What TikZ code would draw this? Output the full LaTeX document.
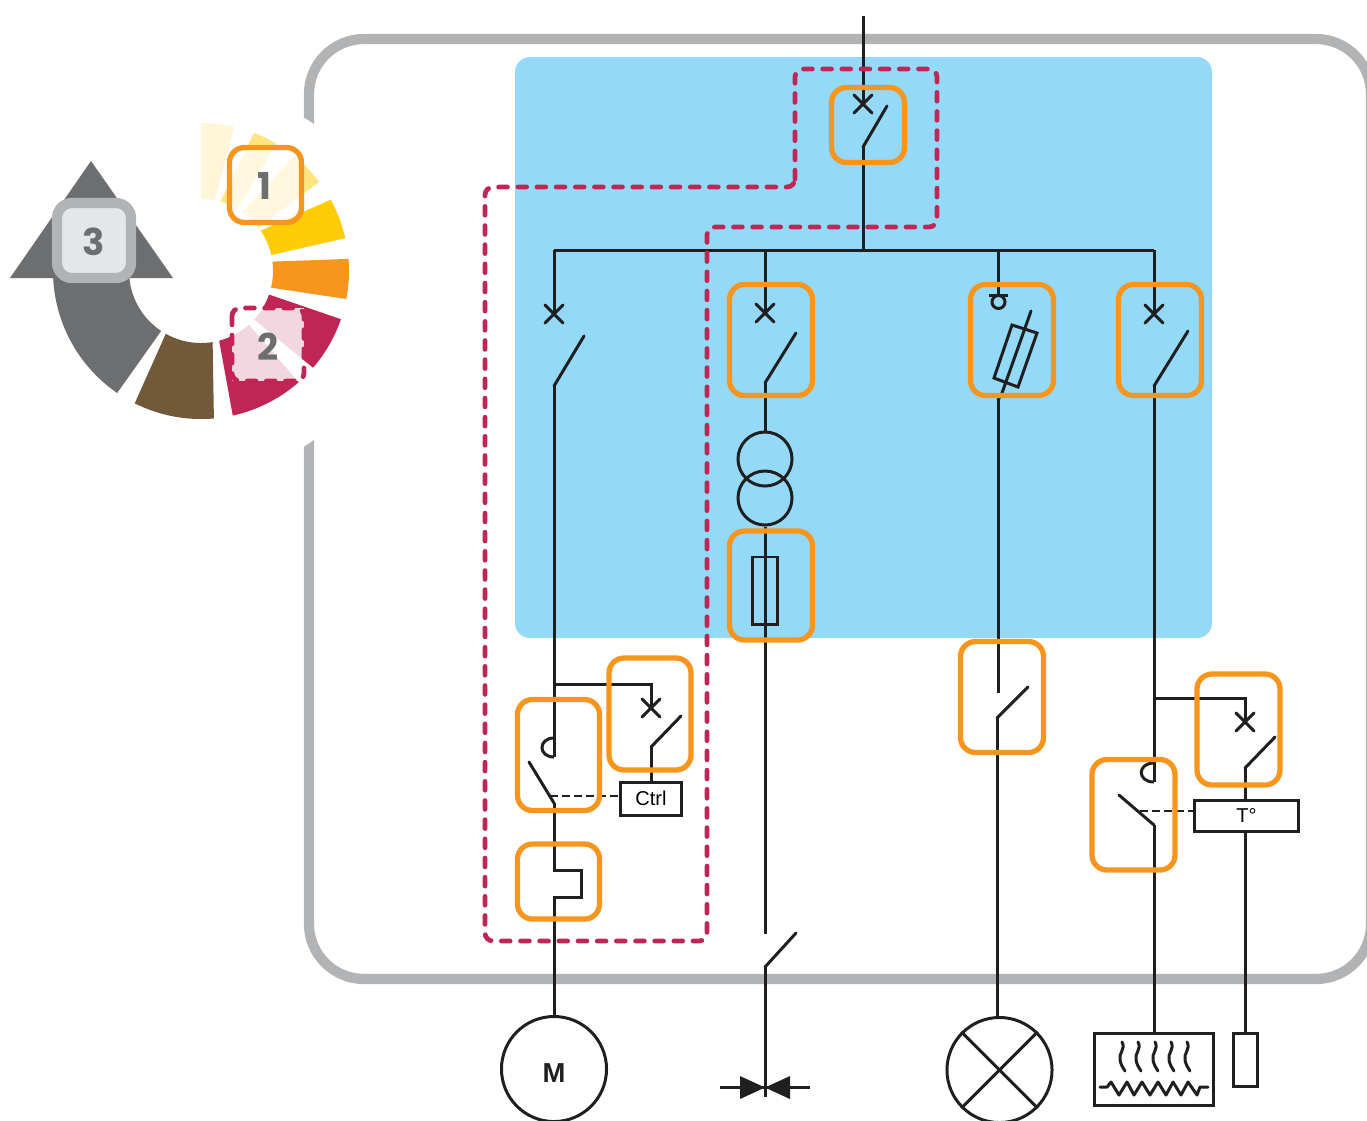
\documentclass[tikz,border=0pt]{standalone}
\usepackage{fontspec}
\setmainfont{Liberation Sans}
\newfontfamily\badgefont{Poppins}
\usepackage{tikz}
\usetikzlibrary{positioning}
\definecolor{framegray}{HTML}{B2B3B5}
\definecolor{darkgray}{HTML}{6D6E70}
\definecolor{lightgray}{HTML}{E5E6E8}
\definecolor{panelblue}{HTML}{95D9F9}
\definecolor{markorange}{HTML}{F8951D}
\definecolor{crimson}{HTML}{C02556}
\definecolor{earth}{HTML}{71593A}
\definecolor{palecream}{HTML}{FFF6DA}
\definecolor{paleyellow}{HTML}{FFE57F}
\definecolor{signyellow}{HTML}{FFCC07}
\tikzset{
  wire/.style={line width=0.85pt,draw=black!88,line join=miter},
  markbox/.style={line width=1.5pt,draw=markorange,rounded corners=0.15cm},
  zonedash/.style={line width=1.35pt,draw=crimson,line cap=round,dash pattern=on 2.5pt off 2.95pt},
  linkdash/.style={line width=0.8pt,draw=black!88,dash pattern=on 2.3pt off 1.1pt},
  devbox/.style={wire,rectangle,inner sep=0pt,font=\fontsize{5.7}{6}\selectfont},
  devround/.style={wire,circle,inner sep=0pt,minimum size=1.05cm},
  badge/.style={inner sep=0pt,text=darkgray,font=\badgefont\bfseries\fontsize{10.5}{11}\selectfont}
}
\begin{document}
\begin{tikzpicture}[x=0.01cm,y=-0.01cm]
  \useasboundingbox (0,0) rectangle (1367,1120);
  \clip (0,0) rectangle (1367,1120);
  \newcommand{\wheelseg}[5]{\fill[#1] (#2:148) arc[start angle=#2,end angle=#3,radius=148] -- (#4:72) arc[start angle=#4,end angle=#5,radius=72] -- cycle;}
  \newcommand{\crossmark}[1]{\draw[wire,line cap=round] (#1) ++(-9,-9) -- ++(18,18) (#1) ++(-9,9) -- ++(18,-18);}

  \fill[panelblue,rounded corners=0.15cm] (515,57) rectangle (1212,638);
  \draw[framegray,line width=2.9pt,rounded corners=0.55cm] (309,39) rectangle (1371,979);
  \fill[white] (201,282) circle[radius=194];

  \begin{scope}[shift={(201,271)},y=0.01cm]
    \wheelseg{palecream}{90}{77}{79}{90}
    \wheelseg{paleyellow}{69}{59.5}{59.5}{74.4}
    \wheelseg{paleyellow}{51}{37}{37}{55}
    \wheelseg{signyellow}{28.8}{12.8}{12.8}{34}
    \wheelseg{markorange}{4.7}{-10.9}{-13.4}{7.5}
    \wheelseg{crimson}{-19}{-40.8}{-42.4}{-19.1}
    \wheelseg{crimson}{-48.7}{-77.6}{-75.4}{-48.2}
    \wheelseg{earth}{-85}{-116.6}{-119.3}{-80.7}
    \fill[darkgray] (-124.5:148) arc[start angle=-124.5,end angle=-177.2,radius=148]
      -- (-191,-7) -- (-110,110) -- (-28,-7) -- (-71,-7)
      -- (-174:72) arc[start angle=-174,end angle=-123.6,radius=72] -- cycle;
  \end{scope}

  \coordinate (pFeed) at (863,16);
  \coordinate (pMainX) at (863,104);
  \coordinate (pMainOut) at (863,147);
  \coordinate (pMainTip) at (887,106);
  \coordinate (pBusMid) at (863,250);
  \coordinate (pBusL) at (554,250);
  \coordinate (pBusT) at (765,250);
  \coordinate (pBusF) at (998,250);
  \coordinate (pBusR) at (1154,250);
  \draw[wire] (pFeed) -- (pMainX);
  \draw[wire] (pMainOut) -- (pBusMid);
  \draw[wire,line cap=round] (pMainOut) -- (pMainTip);
  \crossmark{pMainX}
  \draw[wire] (pBusL) -- (pBusR);

  % motor feeder
  \coordinate (pLeftX) at (554,314);
  \coordinate (pLeftOut) at (554,386);
  \coordinate (pLeftTip) at (584,336);
  \coordinate (pCoilTop) at (554,738);
  \coordinate (pCoilEnd) at (554,757);
  \coordinate (pContTip) at (529,762);
  \coordinate (pContOut) at (554,803);
  \coordinate (pJogA) at (554,870);
  \coordinate (pJogB) at (581,870);
  \coordinate (pJogC) at (581,897);
  \coordinate (pJogD) at (554,897);
  \coordinate (pTapL) at (554,684);
  \coordinate (pTapCorner) at (651,684);
  \coordinate (pCtrlX) at (651,708);
  \coordinate (pCtrlOut) at (651,747);
  \coordinate (pCtrlTip) at (681,716);
  \coordinate (pCtrlLink) at (550,796);
  \node[devbox,draw,minimum width=0.6cm,minimum height=0.33cm] (ctrlBox) at (651,798.5) {Ctrl};
  \node[devround,draw] (motor) at (554,1069) {};
  \node[inner sep=0pt,text=black!88,font=\bfseries\fontsize{7.8}{8}\selectfont] (motorText) at (554,1073) {M};
  \draw[wire] (pBusL) -- (pLeftX);
  \crossmark{pLeftX}
  \draw[wire,line cap=round] (pLeftOut) -- (pLeftTip);
  \draw[wire] (pLeftOut) -- (pCoilEnd);
  \draw[wire] (pCoilTop) .. controls (538,738) and (538,757) .. (pCoilEnd);
  \draw[wire,line cap=round] (pContTip) -- (pContOut);
  \draw[wire] (pContOut) -- (pJogA) -- (pJogB) -- (pJogC) -- (pJogD) -- (motor);
  \draw[wire] (pTapL) -- (pTapCorner) -- (pCtrlX);
  \crossmark{pCtrlX}
  \draw[wire,line cap=round] (pCtrlOut) -- (pCtrlTip);
  \draw[wire] (pCtrlOut) -- (ctrlBox);
  \draw[linkdash] (pCtrlLink) -- (pCtrlLink -| ctrlBox.west);

  % transformer feeder
  \coordinate (pTrafoX) at (765,313);
  \coordinate (pTrafoOut) at (765,383);
  \coordinate (pTrafoTip) at (796,333);
  \coordinate (pValveIn) at (765,934);
  \coordinate (pValveOut) at (765,967);
  \coordinate (pValveTip) at (796,933);
  \coordinate (pValveEnd) at (765,1097);
  \coordinate (pValveMid) at (765,1087.5);
  \node[wire,draw,circle,inner sep=0pt,minimum size=0.54cm] (trafoA) at (765,459) {};
  \node[wire,draw,circle,inner sep=0pt,minimum size=0.54cm] (trafoB) at (765,498) {};
  \node[devbox,draw,minimum width=0.25cm,minimum height=0.67cm] (fuseBox) at (765,590.5) {};
  \draw[wire] (pBusT) -- (pTrafoX);
  \crossmark{pTrafoX}
  \draw[wire,line cap=round] (pTrafoOut) -- (pTrafoTip);
  \draw[wire] (pTrafoOut) -- (trafoA);
  \draw[wire] (trafoB) -- (pValveIn);
  \draw[wire,line cap=round] (pValveOut) -- (pValveTip);
  \draw[wire] (pValveOut) -- (pValveEnd);
  \fill[black!88] (pValveMid) -- (740,1076) -- (740,1099) -- cycle;
  \fill[black!88] (pValveMid) -- (790,1076) -- (790,1099) -- cycle;
  \draw[wire] (720,1087.5) -- (810,1087.5);

  % lamp feeder
  \coordinate (pBarL) at (989,295);
  \coordinate (pBarR) at (1008,295);
  \coordinate (pBarMid) at (998,295);
  \coordinate (pBladeTop) at (1031,311);
  \coordinate (pBladeEnd) at (1002,393);
  \coordinate (pLampIn) at (998,400);
  \coordinate (pLampGap) at (998,693);
  \coordinate (pLampOut) at (997,718);
  \coordinate (pLampTip) at (1028,687);
  \node[devround,draw] (lamp) at (999.5,1070) {};
  \draw[wire] (pBusF) -- (pBarMid);
  \draw[wire] (pBarL) -- (pBarR);
  \draw[wire] (998.5,302) circle[radius=6.5];
  \draw[wire] (1012,325) -- (1037,333) -- (1018,387) -- (994,378) -- cycle;
  \draw[wire,line cap=round] (pBladeTop) -- (pBladeEnd) -- (pLampIn);
  \draw[wire] (pLampIn) -- (pLampGap);
  \draw[wire,line cap=round] (pLampOut) -- (pLampTip);
  \draw[wire] (pLampOut) -- (pLampOut |- lamp.north);
  \draw[wire] (lamp.north west) -- (lamp.south east);
  \draw[wire] (lamp.north east) -- (lamp.south west);

  % heater feeder
  \coordinate (pRightX) at (1154,314);
  \coordinate (pRightOut) at (1154,386);
  \coordinate (pRightTip) at (1188,331);
  \coordinate (pHeatTop) at (1154,763);
  \coordinate (pHeatEnd) at (1154,782);
  \coordinate (pHeatTip) at (1119,795);
  \coordinate (pHeatOut) at (1154,825);
  \coordinate (pHeatLink) at (1140,811);
  \coordinate (pTapR) at (1154,698);
  \coordinate (pTapRCorner) at (1245,698);
  \coordinate (pTempX) at (1245,722);
  \coordinate (pTempOut) at (1245,768);
  \coordinate (pTempTip) at (1275,737);
  \node[devbox,draw,minimum width=1.03cm,minimum height=0.31cm] (tempBox) at (1246.5,815.5) {T°};
  \node[devbox,draw,minimum width=1.18cm,minimum height=0.72cm] (heater) at (1154,1069) {};
  \node[devbox,draw,minimum width=0.24cm,minimum height=0.53cm] (probe) at (1245,1059.5) {};
  \draw[wire] (pBusR) -- (pRightX);
  \crossmark{pRightX}
  \draw[wire,line cap=round] (pRightOut) -- (pRightTip);
  \draw[wire] (pRightOut) -- (pHeatEnd);
  \draw[wire] (pHeatTop) .. controls (1137,763) and (1137,782) .. (pHeatEnd);
  \draw[wire,line cap=round] (pHeatTip) -- (pHeatOut);
  \draw[wire] (pHeatOut) -- (heater);
  \draw[wire] (pTapR) -- (pTapRCorner) -- (pTempX);
  \crossmark{pTempX}
  \draw[wire,line cap=round] (pTempOut) -- (pTempTip);
  \draw[wire] (pTempOut) -- (pTempOut |- tempBox.north);
  \draw[wire] (pTempOut |- tempBox.south) -- (pTempOut |- probe.north);
  \draw[linkdash] (pHeatLink) -- (pHeatLink -| tempBox.west);
  \foreach \wx in {1122,1138,1155,1171,1187}{
    \draw[wire,line cap=round] (\wx,1042) .. controls ({\wx+4},1049) and ({\wx-4},1054) .. ({\wx-2},1060)
      .. controls ({\wx-1},1065) and ({\wx+1},1068) .. ({\wx+3},1071);
  }
  \draw[wire,line cap=round,line join=round] (1100,1087) -- (1107,1087) -- (1111,1082) -- (1119,1095) -- (1127,1082)
    -- (1134,1095) -- (1142,1082) -- (1150,1095) -- (1158,1082) -- (1166,1095) -- (1173,1082)
    -- (1181,1095) -- (1188,1082) -- (1197,1095) -- (1200,1087) -- (1208,1087);

  \draw[markbox] (831.5,87.5) rectangle (904.5,162.5);
  \draw[markbox] (729.5,284.5) rectangle (812.5,395.5);
  \draw[markbox] (970.5,284.5) rectangle (1053.5,395.5);
  \draw[markbox] (1118.5,284.5) rectangle (1201.5,395.5);
  \draw[markbox] (729.5,531) rectangle (812.5,640);
  \draw[markbox] (960.5,641.5) rectangle (1043.5,752.5);
  \draw[markbox] (517.5,699.5) rectangle (599.5,810.5);
  \draw[markbox] (609,658) rectangle (691,770);
  \draw[markbox] (517.5,844) rectangle (599.5,919);
  \draw[markbox] (1092,759.5) rectangle (1175,870);
  \draw[markbox] (1197,674) rectangle (1280,785);

  \draw[zonedash,rounded corners=0.08cm] (795,187) -- (795,69) -- (937,69) -- (937,227) -- (707,227)
    -- (707,941) -- (485,941) -- (485,187) -- cycle;

  \fill[white,fill opacity=0.82] (232,308) rectangle (304,381);
  \draw[zonedash,rounded corners=0.08cm] (232,308) rectangle (304,381);
  \draw[markbox,fill=white,fill opacity=0.75] (229.5,147.5) rectangle (301.5,222.5);
  \draw[framegray,line width=2.9pt,fill=lightgray,rounded corners=0.15cm] (57,203) rectangle (131,278);
  \node[badge] (badgeOne) at (264,186) {1};
  \node[badge] (badgeTwo) at (268,347) {2};
  \node[badge] (badgeThree) at (94,242) {3};
\end{tikzpicture}
\end{document}
